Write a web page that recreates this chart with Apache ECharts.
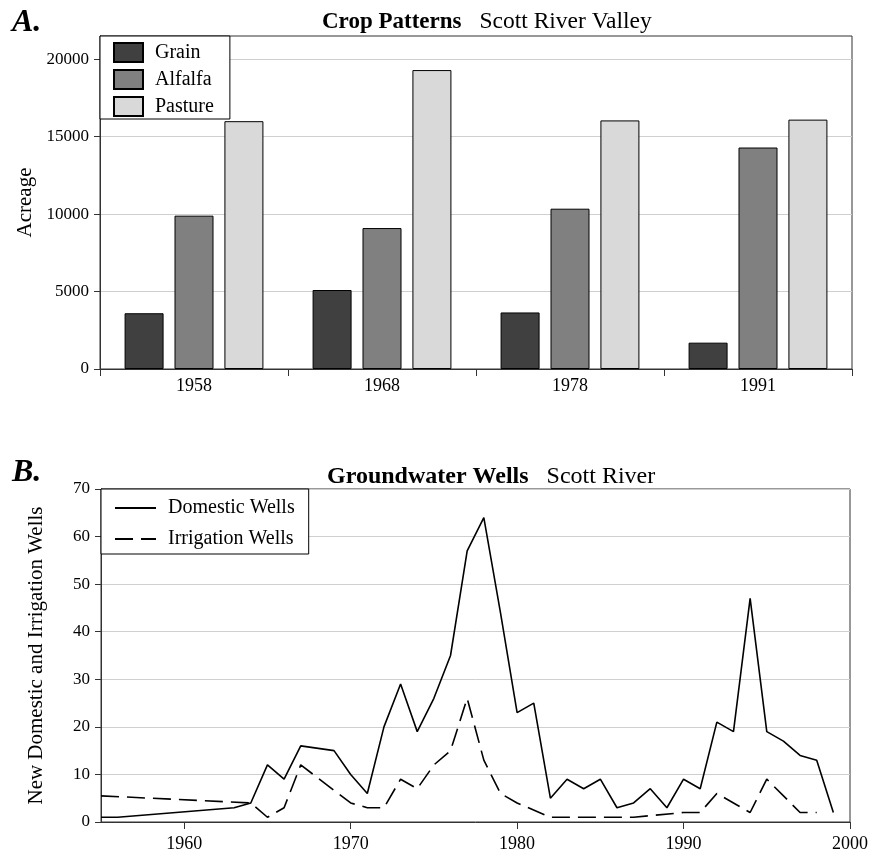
<!DOCTYPE html>
<html>
<head>
<meta charset="utf-8">
<script src="https://cdn.jsdelivr.net/npm/echarts@6/dist/echarts.min.js"></script>
<style>
    html, body { margin: 0; padding: 0; background: #fff; }
    #chart { width: 871px; height: 855px; }
</style>
</head>
<body>
<div id="chart"></div>
<script>
// A. crop acreage by survey year
const cropYears = ["1958", "1968", "1978", "1991"];
const grain = [3600, 5100, 3650, 1700];
const alfalfa = [9900, 9100, 10350, 14300];
const pasture = [16000, 19300, 16050, 16100];
const acreageTicks = [0, 5000, 10000, 15000, 20000];

// B. new wells per year [year, count]
const domesticWells = [
    [1955, 1], [1956, 1], [1963, 3], [1964, 4], [1965, 12], [1966, 9],
    [1967, 16], [1969, 15], [1970, 10], [1971, 6], [1972, 20], [1973, 29],
    [1974, 19], [1975, 26], [1976, 35], [1977, 57], [1978, 64], [1979, 44],
    [1980, 23], [1981, 25], [1982, 5], [1983, 9], [1984, 7], [1985, 9],
    [1986, 3], [1987, 4], [1988, 7], [1989, 3], [1990, 9], [1991, 7],
    [1992, 21], [1993, 19], [1994, 47], [1995, 19], [1996, 17], [1997, 14],
    [1998, 13], [1999, 2]
];
const irrigationWells = [
    [1955, 5.5], [1964, 4], [1965, 1], [1966, 3], [1967, 12], [1970, 4],
    [1971, 3], [1972, 3], [1973, 9], [1974, 7], [1975, 12], [1976, 15],
    [1977, 26], [1978, 13], [1979, 6], [1980, 4], [1982, 1], [1983, 1],
    [1984, 1], [1985, 1], [1986, 1], [1987, 1], [1990, 2], [1991, 2],
    [1992, 6], [1993, 4], [1994, 2], [1995, 9], [1997, 2], [1998, 2]
];
const yearTicks = [1960, 1970, 1980, 1990, 2000];

const FONT = "'Liberation Serif', 'DejaVu Serif', serif";
const AXIS_COLOR = "#333";
const GRID_LINE = "#cfcfcf";

const chart = echarts.init(document.getElementById("chart"), null, { renderer: "canvas" });

const barStyle = color => ({ color: color, borderColor: "#000", borderWidth: 1 });
const plainNumber = v => String(v);

const titleRich = (boldSize, normalSize) => ({
    b: { fontFamily: FONT, fontSize: boldSize, fontWeight: "bold", color: "#000", padding: [0, 18, 0, 0] },
    n: { fontFamily: FONT, fontSize: normalSize, fontWeight: "normal", color: "#000" }
});

const option = {
    backgroundColor: "#fff",
    animation: false,
    textStyle: { fontFamily: FONT, color: "#000" },
    title: [
        {
            text: "A.",
            left: 7, top: 2,
            textStyle: { fontFamily: FONT, fontSize: 32, fontWeight: "bold", fontStyle: "italic", color: "#000" }
        },
        {
            text: "{b|Crop Patterns}{n|Scott River Valley}",
            left: 317, top: 5,
            textStyle: { rich: titleRich(23, 23.5) }
        },
        {
            text: "B.",
            left: 7, top: 452,
            textStyle: { fontFamily: FONT, fontSize: 32, fontWeight: "bold", fontStyle: "italic", color: "#000" }
        },
        {
            text: "{b|Groundwater Wells}{n|Scott River}",
            left: 322, top: 460,
            textStyle: { rich: titleRich(24, 24) }
        }
    ],
    legend: [
        {
            data: ["Grain", "Alfalfa", "Pasture"],
            orient: "vertical",
            left: 100, top: 36,
            padding: [6, 16, 2, 13],
            icon: "rect",
            itemWidth: 29, itemHeight: 19, itemGap: 6,
            backgroundColor: "#fff",
            borderColor: "#000", borderWidth: 1, borderRadius: 0,
            textStyle: { fontFamily: FONT, fontSize: 20, color: "#000", padding: [0, 0, 0, 7] }
        },
        {
            data: ["Domestic Wells", "Irrigation Wells"],
            orient: "vertical",
            left: 101, top: 489,
            padding: [9, 14, 5, 13],
            itemWidth: 41, itemHeight: 16, itemGap: 11,
            itemStyle: { opacity: 0 },
            backgroundColor: "#fff",
            borderColor: "#000", borderWidth: 1, borderRadius: 0,
            textStyle: { fontFamily: FONT, fontSize: 20, color: "#000", padding: [0, 0, 0, 7] }
        }
    ],
    grid: [
        { left: 100, top: 36, width: 752, height: 333, show: true, borderColor: AXIS_COLOR, borderWidth: 1, backgroundColor: "transparent" },
        { left: 101, top: 489, width: 751, height: 333, show: true, borderColor: AXIS_COLOR, borderWidth: 1, backgroundColor: "transparent" }
    ],
    xAxis: [
        {
            gridIndex: 0,
            type: "category",
            data: cropYears,
            boundaryGap: true,
            axisLine: { lineStyle: { color: AXIS_COLOR, width: 1 } },
            axisTick: { show: true, inside: false, length: 7, lineStyle: { color: AXIS_COLOR } },
            axisLabel: { fontFamily: FONT, fontSize: 18, color: "#000", margin: 8 },
            splitLine: { show: false }
        },
        {
            gridIndex: 1,
            type: "value",
            min: 1955, max: 2000,
            axisLine: { onZero: false, lineStyle: { color: AXIS_COLOR, width: 1 } },
            axisTick: { show: true, length: 7, customValues: yearTicks, lineStyle: { color: AXIS_COLOR } },
            axisLabel: { fontFamily: FONT, fontSize: 18, color: "#000", margin: 13, customValues: yearTicks, formatter: plainNumber },
            splitLine: { show: false }
        }
    ],
    yAxis: [
        {
            gridIndex: 0,
            type: "value",
            min: 0, max: 21500, interval: 5000,
            name: "Acreage",
            nameLocation: "middle",
            nameGap: 62,
            nameTextStyle: { fontFamily: FONT, fontSize: 21, color: "#000" },
            axisLine: { show: true, lineStyle: { color: AXIS_COLOR } },
            axisTick: { show: true, length: 6, customValues: acreageTicks, lineStyle: { color: AXIS_COLOR } },
            axisLabel: { fontFamily: FONT, fontSize: 17, color: "#000", margin: 11, customValues: acreageTicks, formatter: plainNumber },
            splitLine: { show: true, lineStyle: { color: GRID_LINE, width: 1 } }
        },
        {
            gridIndex: 1,
            type: "value",
            min: 0, max: 70, interval: 10,
            name: "New Domestic and Irrigation Wells",
            nameLocation: "middle",
            nameGap: 54,
            nameTextStyle: { fontFamily: FONT, fontSize: 21, color: "#000" },
            axisLine: { show: true, lineStyle: { color: AXIS_COLOR } },
            axisTick: { show: true, length: 6, lineStyle: { color: AXIS_COLOR } },
            axisLabel: { fontFamily: FONT, fontSize: 17, color: "#000", margin: 11 },
            splitLine: { show: true, lineStyle: { color: GRID_LINE, width: 1 } }
        }
    ],
    series: [
        {
            name: "Grain", type: "bar", xAxisIndex: 0, yAxisIndex: 0,
            data: grain, barWidth: 39, barGap: "28%",
            itemStyle: barStyle("#404040")
        },
        {
            name: "Alfalfa", type: "bar", xAxisIndex: 0, yAxisIndex: 0,
            data: alfalfa, barWidth: 39, barGap: "28%",
            itemStyle: barStyle("#808080")
        },
        {
            name: "Pasture", type: "bar", xAxisIndex: 0, yAxisIndex: 0,
            data: pasture, barWidth: 39, barGap: "28%",
            itemStyle: barStyle("#d9d9d9")
        },
        {
            name: "Domestic Wells", type: "line", xAxisIndex: 1, yAxisIndex: 1,
            data: domesticWells,
            symbol: "none", showSymbol: false,
            lineStyle: { color: "#000", width: 1.6 },
            itemStyle: { color: "#000" }
        },
        {
            name: "Irrigation Wells", type: "line", xAxisIndex: 1, yAxisIndex: 1,
            data: irrigationWells,
            symbol: "none", showSymbol: false,
            lineStyle: { color: "#000", width: 1.6, type: [18, 8] },
            itemStyle: { color: "#000" }
        }
    ]
};

chart.setOption(option);
</script>
</body>
</html>
